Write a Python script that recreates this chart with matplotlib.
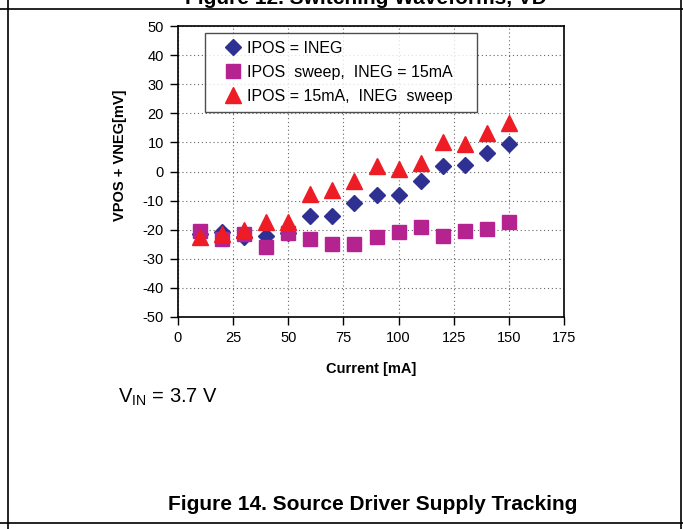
import matplotlib
matplotlib.use("Agg")
import matplotlib.pyplot as plt
from matplotlib.lines import Line2D

plt.rcParams['font.family'] = ['Liberation Sans', 'DejaVu Sans']

current = [10, 20, 30, 40, 50, 60, 70, 80, 90, 100, 110, 120, 130, 140, 150]
ipos_eq_ineg = [-21.5, -20.8, -22.5, -22.3, -21.0, -15.4, -15.4, -10.7, -8.2, -8.2, -3.1, 2.0, 2.2, 6.4, 9.3]
ipos_sweep = [-20.5, -23.1, -21.4, -26.0, -21.0, -23.3, -24.8, -24.8, -22.5, -20.8, -19.1, -22.2, -20.5, -19.7, -17.4]
ineg_sweep = [-22.5, -21.4, -20.2, -17.4, -17.4, -7.8, -6.2, -3.3, 1.8, 0.9, 3.0, 10.2, 9.4, 13.1, 16.8]

labels = ['IPOS = INEG', 'IPOS  sweep,  INEG = 15mA', 'IPOS = 15mA,  INEG  sweep']
xticks = [0, 25, 50, 75, 100, 125, 150, 175]
yticks = [-50, -40, -30, -20, -10, 0, 10, 20, 30, 40, 50]

W, H = 683, 529
fig = plt.figure(figsize=(W / 100, H / 100), dpi=100)
ax = fig.add_axes([178 / W, 1 - 317 / H, (564 - 178) / W, (317 - 26) / H])

ax.plot(current, ipos_eq_ineg, linestyle='none', marker='D', markersize=7.8,
        color='#2E3192', label=labels[0], zorder=3)
ax.plot(current, ipos_sweep, linestyle='none', marker='s', markersize=10,
        color='#B4238F', label=labels[1], zorder=4)
ax.plot(current, ineg_sweep, linestyle='none', marker='^', markersize=11.5,
        color='#EE1C25', label=labels[2], zorder=5)

ax.set_xlim(0, 175)
ax.set_ylim(-50, 50)
ax.set_xticks(xticks)
ax.set_yticks(yticks)
ax.set_xticklabels([str(v) for v in xticks], fontsize=10.5)
ax.set_yticklabels([str(v) for v in yticks], fontsize=10.5)
ax.tick_params(direction='out', length=6, width=1, color='black', pad=4)
ax.grid(True, linestyle=(0, (1, 2.5)), color='#666666', linewidth=0.8)
ax.set_axisbelow(True)
for sp in ax.spines.values():
    sp.set_linewidth(1.2)
    sp.set_color('black')

ax.set_xlabel('Current [mA]', fontsize=10.5, fontweight='bold', labelpad=12)
ax.set_ylabel('VPOS + VNEG[mV]', fontsize=10.5, fontweight='bold')
ax.yaxis.set_label_coords(-0.132, 0.557)

leg = ax.legend(loc='upper left', bbox_to_anchor=(0.070, 0.976, 0.705, 0.0),
                mode='expand', fontsize=11.5,
                frameon=True, fancybox=False, edgecolor='#222222',
                handletextpad=-0.35, handlelength=2.5, borderpad=0.5,
                labelspacing=0.55, borderaxespad=0)
leg.get_frame().set_linewidth(1.0)

fig.text(118 / W, 1 - 397 / H, r'V$_{\mathregular{IN}}$ = 3.7 V', fontsize=14.5,
         ha='left', va='center')
fig.text(373 / W, 1 - 505 / H, 'Figure 14. Source Driver Supply Tracking',
         fontsize=15, fontweight='bold', ha='center', va='center')
fig.text(366 / W, 1 - 4 / H, 'Figure 12. Switching Waveforms, VD',
         fontsize=15, fontweight='bold', ha='center', va='baseline')

# document borders
for (x0, y0, x1, y1) in [(0, 9, W, 9), (0, 523, W, 523), (8, 0, 8, H), (681, 0, 681, H)]:
    fig.add_artist(Line2D([x0 / W, x1 / W], [1 - y0 / H, 1 - y1 / H],
                          color='black', linewidth=1.2, transform=fig.transFigure))

fig.savefig('out.png', dpi=100)
